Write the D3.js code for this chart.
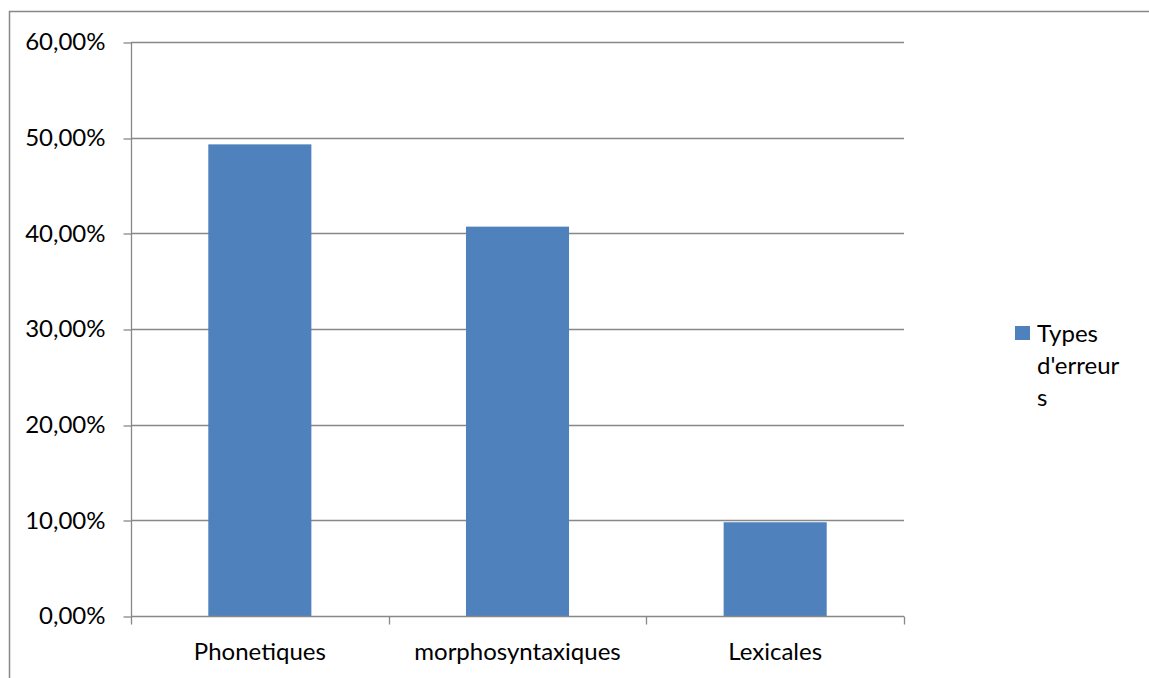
<!DOCTYPE html>
<html>
<head>
<meta charset="utf-8">
<script src="https://cdn.jsdelivr.net/npm/d3@7"></script>
<style>
  html, body { margin: 0; padding: 0; background: #fff; overflow: hidden; }
  svg { display: block; }
  text { font-family: Lato, "Open Sans", sans-serif; fill: #000; }
</style>
</head>
<body>
<svg id="chart" width="1149" height="678"></svg>
<script>
// Error types and their share of all errors
const categories = ["Phonetiques", "morphosyntaxiques", "Lexicales"];
const values = [0.493, 0.407, 0.098];
const yTicks = [0, 0.1, 0.2, 0.3, 0.4, 0.5, 0.6];
const seriesName = ["Types", "d'erreur", "s"];

const W = 1149, H = 678;
const plot = { left: 131, right: 904, top: 42, bottom: 616 };
const barColor = "#4f81bd";
const lineColor = "#888888";
const fontSize = 24;
const fontFamily = "Lato, 'Open Sans', sans-serif";

const svg = d3.select("#chart");

// Chart frame: top and left edges
svg.append("path")
  .attr("d", `M9.5,${H}V11.5H${W}`)
  .attr("fill", "none").attr("stroke", lineColor).attr("stroke-width", 1.5);

const x = d3.scaleBand()
  .domain(categories)
  .range([plot.left, plot.right])
  .paddingInner(0.6)
  .paddingOuter(0.3);

const y = d3.scaleLinear()
  .domain([0, 0.6])
  .range([plot.bottom, plot.top]);

const fmt = v => d3.format(".2f")(v * 100).replace(".", ",") + "%";

// Horizontal gridlines
svg.append("g")
  .selectAll("line")
  .data(yTicks.filter(t => t > 0))
  .join("line")
  .attr("x1", plot.left).attr("x2", plot.right)
  .attr("y1", d => Math.round(y(d)) + 0.5).attr("y2", d => Math.round(y(d)) + 0.5)
  .attr("stroke", lineColor).attr("stroke-width", 1.3);

// Y axis
const yAxis = svg.append("g")
  .attr("transform", `translate(${plot.left + 0.5},0)`)
  .call(d3.axisLeft(y).tickValues(yTicks).tickFormat(fmt).tickSize(8).tickPadding(18));
yAxis.select(".domain").attr("stroke", lineColor).attr("stroke-width", 1.3)
  .attr("d", `M0,${plot.top}V${plot.bottom}`);
yAxis.selectAll(".tick line").attr("stroke", lineColor).attr("stroke-width", 1.3)
  .attr("transform", d => `translate(0,${Math.round(y(d)) + 0.5 - y(d)})`);
yAxis.selectAll(".tick text")
  .style("font-size", fontSize + "px")
  .style("font-family", fontFamily)
  .attr("fill", "#000");

// Bars
svg.append("g")
  .selectAll("rect")
  .data(categories.map((c, i) => ({ c, v: values[i] })))
  .join("rect")
  .attr("x", d => x(d.c))
  .attr("y", d => y(d.v))
  .attr("width", x.bandwidth())
  .attr("height", d => y(0) - y(d.v))
  .attr("fill", barColor);

// X axis
const xAxis = svg.append("g")
  .attr("transform", `translate(0,${plot.bottom + 0.5})`)
  .call(d3.axisBottom(x).tickSize(0).tickPadding(26));
xAxis.select(".domain").attr("stroke", lineColor).attr("stroke-width", 1.3)
  .attr("d", `M${plot.left},0H${plot.right}`);
xAxis.selectAll(".tick text")
  .style("font-size", fontSize + "px")
  .style("font-family", fontFamily)
  .attr("fill", "#000");

// Category boundary ticks
const bounds = d3.range(categories.length + 1).map(i => plot.left + i * x.step());
xAxis.append("g")
  .selectAll("line")
  .data(bounds)
  .join("line")
  .attr("x1", d => Math.round(d) + 0.5).attr("x2", d => Math.round(d) + 0.5)
  .attr("y1", 0).attr("y2", 8)
  .attr("stroke", lineColor).attr("stroke-width", 1.3);

// Legend
const legend = svg.append("g").attr("transform", "translate(1015,326)");
legend.append("rect")
  .attr("width", 15).attr("height", 14)
  .attr("fill", barColor);
legend.append("text")
  .style("font-size", fontSize + "px")
  .style("font-family", fontFamily)
  .selectAll("tspan")
  .data(seriesName)
  .join("tspan")
  .attr("x", 22)
  .attr("y", (d, i) => 16 + i * 32)
  .text(d => d);
</script>
</body>
</html>
